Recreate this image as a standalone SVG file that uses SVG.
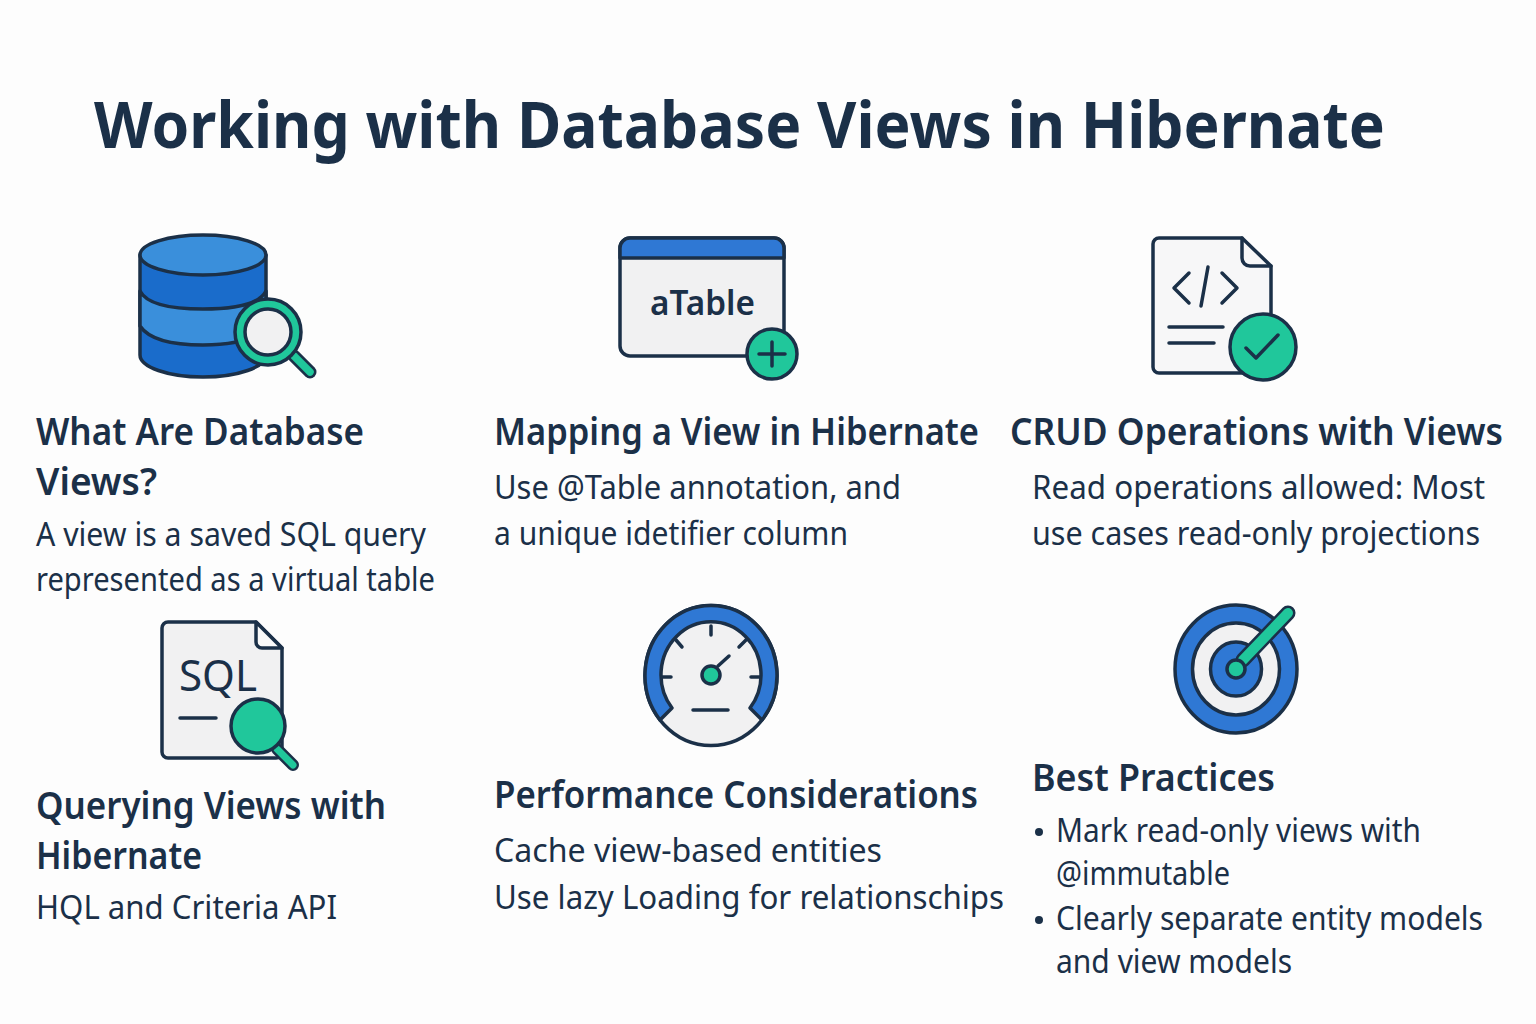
<svg xmlns="http://www.w3.org/2000/svg" width="1536" height="1024" viewBox="0 0 1536 1024">
<style>
text{font-family:"Noto Sans","Open Sans","Liberation Sans",sans-serif;fill:#1b3048}
.t{font-size:64px;font-weight:700}
.h{font-size:37px;font-weight:600}
.b{font-size:33px;font-weight:400}
.s{stroke:#1b3048;stroke-width:3.5;stroke-linecap:round;stroke-linejoin:round}
.n{fill:none}
.l{fill:#f1f1f2}
.g{fill:#20c79b}
.u{fill:#2f78d4}
.d{fill:#1a6ccb}
.m{fill:#3a8fdb}
</style>
<rect width="1536" height="1024" fill="#fdfdfd"/>
<text id="title" class="t" x="94" y="148" textLength="1291" lengthAdjust="spacingAndGlyphs">Working with Database Views in Hibernate</text>

<g id="node-views">
<path class="d s" d="M140 255V355C140 367 168 377 203 377S266 367 266 355V255Z"/>
<path class="m s" d="M140 291C146 303 168 309 203 309S260 303 266 291V326C258 338 238 345 203 345S148 338 140 326Z"/>
<ellipse class="m s" cx="203" cy="255" rx="63" ry="20"/>
<path d="M294 356L310 372" stroke="#1b3048" stroke-width="13" stroke-linecap="round"/>
<path d="M294 356L310 372" stroke="#20c79b" stroke-width="7.5" stroke-linecap="round"/>
<circle cx="268" cy="332" r="28" fill="#f1f1f2" stroke="#20c79b" stroke-width="10"/>
<circle class="n s" cx="268" cy="332" r="33"/>
<circle class="n s" cx="268" cy="332" r="23"/>
<text class="h" x="36" y="445" textLength="328" lengthAdjust="spacingAndGlyphs">What Are Database</text>
<text class="h" x="36" y="495" textLength="121" lengthAdjust="spacingAndGlyphs">Views?</text>
<text class="b" x="36" y="546" textLength="390" lengthAdjust="spacingAndGlyphs">A view is a saved SQL query</text>
<text class="b" x="36" y="591" textLength="399" lengthAdjust="spacingAndGlyphs">represented as a virtual table</text>
</g>

<g id="node-mapping">
<rect class="l s" x="620" y="238" width="164" height="118" rx="10"/>
<path class="u s" d="M620 258V248A10 10 0 0 1 630 238H774A10 10 0 0 1 784 248V258Z"/>
<text x="650" y="315" font-size="35" font-weight="600" textLength="105" lengthAdjust="spacingAndGlyphs">aTable</text>
<circle class="g s" cx="772" cy="354" r="25"/>
<path class="n s" d="M772 342V366M759 354H785"/>
<text class="h" x="494" y="445" textLength="485" lengthAdjust="spacingAndGlyphs">Mapping a View in Hibernate</text>
<text class="b" x="494" y="499" textLength="407" lengthAdjust="spacingAndGlyphs">Use @Table annotation, and</text>
<text class="b" x="494" y="545" textLength="354" lengthAdjust="spacingAndGlyphs">a unique idetifier column</text>
</g>

<g id="node-crud">
<path d="M1159 238H1242L1271 266V367A6 6 0 0 1 1265 373H1159A6 6 0 0 1 1153 367V244A6 6 0 0 1 1159 238Z" fill="#f7f7f8" class="s"/>
<path class="n s" d="M1242 238V258A8 8 0 0 0 1250 266H1271"/>
<path class="n s" d="M1189 273L1174 288L1189 303M1208 267L1201 306M1222 273L1237 288L1222 303M1169 327H1223M1169 343H1214"/>
<circle class="g s" cx="1263" cy="347" r="33"/>
<path class="n s" d="M1246 348L1256 358L1278 335"/>
<text class="h" x="1010" y="445" textLength="493" lengthAdjust="spacingAndGlyphs">CRUD Operations with Views</text>
<text class="b" x="1032" y="499" textLength="453" lengthAdjust="spacingAndGlyphs">Read operations allowed: Most</text>
<text class="b" x="1032" y="545" textLength="448" lengthAdjust="spacingAndGlyphs">use cases read-only projections</text>
</g>

<g id="node-querying">
<path class="l s" d="M168 622H256L282 648V752A6 6 0 0 1 276 758H168A6 6 0 0 1 162 752V628A6 6 0 0 1 168 622Z"/>
<path d="M256 622V642A6 6 0 0 0 262 648H282Z" fill="#fafafa" class="s"/>
<text x="179" y="691" font-size="43" font-weight="400" textLength="78" lengthAdjust="spacingAndGlyphs">SQL</text>
<path class="n s" d="M180 718H216"/>
<path d="M277 749L293 765" stroke="#1b3048" stroke-width="12" stroke-linecap="round"/>
<path d="M277 749L293 765" stroke="#20c79b" stroke-width="7" stroke-linecap="round"/>
<circle class="g s" cx="258" cy="726" r="27"/>
<text class="h" x="36" y="819" textLength="350" lengthAdjust="spacingAndGlyphs">Querying Views with</text>
<text class="h" x="36" y="869" textLength="166" lengthAdjust="spacingAndGlyphs">Hibernate</text>
<text class="b" x="36" y="919" textLength="301" lengthAdjust="spacingAndGlyphs">HQL and Criteria API</text>
</g>

<g id="node-performance">
<ellipse class="l s" cx="711" cy="675.5" rx="66" ry="70"/>
<path class="u s" d="M660 720A66 70 0 1 1 762 720L750 708A50 53 0 1 0 672 708Z"/>
<path class="n s" d="M711 626V635M676 640L682 647M746 640L739 647M662 677H671M751 677H760M718 666L729 656M693 710H728"/>
<circle class="g s" cx="711" cy="675" r="9"/>
<text class="h" x="494" y="808" textLength="484" lengthAdjust="spacingAndGlyphs">Performance Considerations</text>
<text class="b" x="494" y="862" textLength="388" lengthAdjust="spacingAndGlyphs">Cache view-based entities</text>
<text class="b" x="494" y="909" textLength="510" lengthAdjust="spacingAndGlyphs">Use lazy Loading for relationschips</text>
</g>

<g id="node-best">
<ellipse class="u s" cx="1236" cy="669" rx="61" ry="64"/>
<ellipse class="l s" cx="1236" cy="669" rx="43.5" ry="46"/>
<ellipse class="u s" cx="1236" cy="669" rx="25.5" ry="27"/>
<path d="M1243 660L1288 613" stroke="#1b3048" stroke-width="15" stroke-linecap="round"/>
<path d="M1243 660L1288 613" stroke="#20c79b" stroke-width="10" stroke-linecap="round"/>
<circle class="g s" cx="1236" cy="669" r="9"/>
<text class="h" x="1032" y="791" textLength="243" lengthAdjust="spacingAndGlyphs">Best Practices</text>
<circle cx="1039" cy="832" r="4" fill="#1b3048"/>
<text class="b" x="1056" y="842" textLength="365" lengthAdjust="spacingAndGlyphs">Mark read-only views with</text>
<text class="b" x="1056" y="885" textLength="174" lengthAdjust="spacingAndGlyphs">@immutable</text>
<circle cx="1039" cy="920" r="4" fill="#1b3048"/>
<text class="b" x="1056" y="930" textLength="427" lengthAdjust="spacingAndGlyphs">Clearly separate entity models</text>
<text class="b" x="1056" y="973" textLength="236" lengthAdjust="spacingAndGlyphs">and view models</text>
</g>
</svg>
